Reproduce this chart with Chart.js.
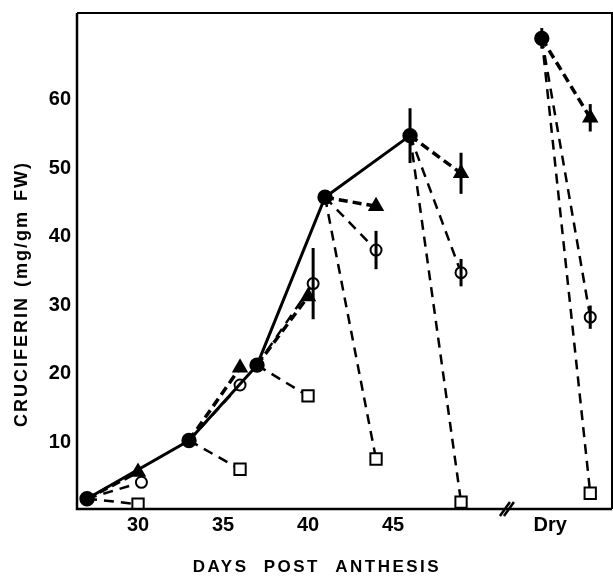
<!DOCTYPE html>
<html>
<head>
<meta charset="utf-8">
<script src="https://cdn.jsdelivr.net/npm/chart.js@4.4.0/dist/chart.umd.min.js"></script>
<style>
body { margin: 0; background: #fff; overflow: hidden; }
#wrap { width: 613px; height: 576px; }
canvas { display: block; }
</style>
</head>
<body>
<div id="wrap"><canvas id="myChart"></canvas></div>
<script>
// main (filled circles), last one is the dry seed
const parentX = [27, 33, 37, 41, 46, 53.75]
const parentY = [1.5, 10, 21, 45.5, 54.5, 68.7]
const parentErr = [0, 0, 0, 0, 4, 1.5]

// branches, one per parent
const triX = [30, 36, 40, 44, 49, 56.6]
const triY = [5.4, 20.6, 31, 44.2, 49, 57.1]
const triErr = [0, 0, 0, 0, 3, 2]

const circX = [30.2, 36, 40.3, 44, 49, 56.6]
const circY = [3.9, 18.1, 32.9, 37.8, 34.5, 28]
const circErr = [0, 0, 5.2, 2.8, 2, 1.7]

const sqX = [30, 36, 40, 44, 49, 56.6]
const sqY = [0.7, 5.8, 16.5, 7.3, 1.0, 2.3]

const xTicks = [30, 35, 40, 45, 54.24]
const xTickLabels = ['30', '35', '40', '45', 'Dry']
const yTicks = [10, 20, 30, 40, 50, 60]
const breakAt = 51.7

const ctx = document.getElementById('myChart');
const tickFont = {family: 'Liberation Sans', size: 20, weight: 'bold'}

function branchData(bx, by) {
    const out = []
    for (let i = 0; i < bx.length; i++) {
        out.push({x: parentX[i], y: parentY[i]})
        out.push({x: bx[i], y: by[i]})
        out.push({x: bx[i], y: null})
    }
    return out
}

function branchSet(bx, by, style, radius, fill, width, dash) {
    return {
        data: branchData(bx, by),
        borderColor: '#000',
        borderWidth: width,
        borderDash: dash,
        spanGaps: false,
        pointStyle: style,
        pointRadius: c => c.dataIndex % 3 === 1 ? radius : 0,
        pointBackgroundColor: fill,
        pointBorderColor: '#000',
        pointBorderWidth: 2,
        tension: 0
    }
}

const mainData = []
for (let i = 0; i < parentX.length; i++) {
    if (i === 5) mainData.push({x: 50, y: null})
    mainData.push({x: parentX[i], y: parentY[i]})
}

function noPad(axis) {
    axis.paddingLeft = 0
    axis.paddingRight = 0
    axis.paddingTop = 0
    axis.paddingBottom = 0
}

const errPlugin = {
    id: 'errbars',
    afterDatasetsDraw(chart) {
        const c = chart.ctx
        const xs = chart.scales.x
        const ys = chart.scales.y
        c.save()
        c.strokeStyle = '#000'
        c.lineWidth = 3
        const groups = [[parentX, parentY, parentErr], [triX, triY, triErr], [circX, circY, circErr]]
        groups.forEach(g => {
            for (let i = 0; i < g[0].length; i++) {
                if (!g[2][i]) continue
                const px = xs.getPixelForValue(g[0][i])
                c.beginPath()
                c.moveTo(px, ys.getPixelForValue(g[1][i] + g[2][i]))
                c.lineTo(px, ys.getPixelForValue(g[1][i] - g[2][i]))
                c.stroke()
            }
        })
        c.restore()
    }
}

const framePlugin = {
    id: 'frame',
    afterDraw(chart) {
        const c = chart.ctx
        const a = chart.chartArea
        c.save()
        c.strokeStyle = '#000'
        c.lineWidth = 2
        c.beginPath()
        c.moveTo(a.left, a.top)
        c.lineTo(a.right, a.top)
        c.lineTo(a.right, a.bottom)
        c.stroke()
        c.lineWidth = 2.5
        c.beginPath()
        c.moveTo(a.left, a.top)
        c.lineTo(a.left, a.bottom)
        c.lineTo(a.right, a.bottom)
        c.stroke()
        // axis break
        const bx = chart.scales.x.getPixelForValue(breakAt)
        c.lineWidth = 2.5
        ;[-2, 2].forEach(d => {
            c.beginPath()
            c.moveTo(bx - 5 + d, a.bottom + 7)
            c.lineTo(bx + 5 + d, a.bottom - 7)
            c.stroke()
        })
        // titles
        c.fillStyle = '#000'
        c.textAlign = 'center'
        c.textBaseline = 'middle'
        c.font = 'bold 17px "Liberation Sans"'
        c.letterSpacing = '2.5px'
        c.wordSpacing = '8px'
        c.fillText('DAYS POST ANTHESIS', 317, 567)
        c.font = 'bold 18px "Liberation Sans"'
        c.letterSpacing = '2px'
        c.wordSpacing = '2px'
        c.translate(22, 294)
        c.rotate(-Math.PI / 2)
        c.fillText('CRUCIFERIN (mg/gm FW)', 0, 0)
        c.restore()
    }
}

new Chart(ctx, {
    type: 'line',
    data: {
        datasets: [
            {
                data: mainData,
                borderColor: '#000',
                borderWidth: 3,
                spanGaps: false,
                pointStyle: 'circle',
                pointRadius: 6.2,
                pointBackgroundColor: '#000',
                pointBorderColor: '#000',
                tension: 0
            },
            branchSet(triX, triY, 'triangle', 7.5, '#000', 3.5, [9, 5]),
            branchSet(circX, circY, 'circle', 5.5, '#fff', 2.5, [10, 7]),
            branchSet(sqX, sqY, 'rect', 8, '#fff', 2.5, [10, 7])
        ]
    },
    options: {
        responsive: true,
        maintainAspectRatio: false,
        animation: false,
        layout: {autoPadding: false, padding: {top: 13, right: 1, left: 0, bottom: 0}},
        plugins: {legend: {display: false}, tooltip: {enabled: false}},
        scales: {
            x: {
                type: 'linear',
                min: 26.41,
                max: 57.88,
                grid: {display: false, drawTicks: false},
                border: {display: false},
                afterBuildTicks: axis => { axis.ticks = xTicks.map(v => ({value: v})) },
                afterFit: axis => { axis.height = 67; noPad(axis) },
                ticks: {
                    autoSkip: false,
                    maxRotation: 0,
                    padding: 4,
                    color: '#000',
                    font: tickFont,
                    callback: (v, i) => xTickLabels[i]
                }
            },
            y: {
                min: 0,
                max: 72.4,
                grid: {display: false, drawTicks: false},
                border: {display: false},
                afterBuildTicks: axis => { axis.ticks = yTicks.map(v => ({value: v})) },
                afterFit: axis => { axis.width = 77; noPad(axis) },
                ticks: {
                    padding: 6,
                    labelOffset: 2,
                    color: '#000',
                    font: tickFont
                }
            }
        }
    },
    plugins: [errPlugin, framePlugin]
});
</script>
</body>
</html>
